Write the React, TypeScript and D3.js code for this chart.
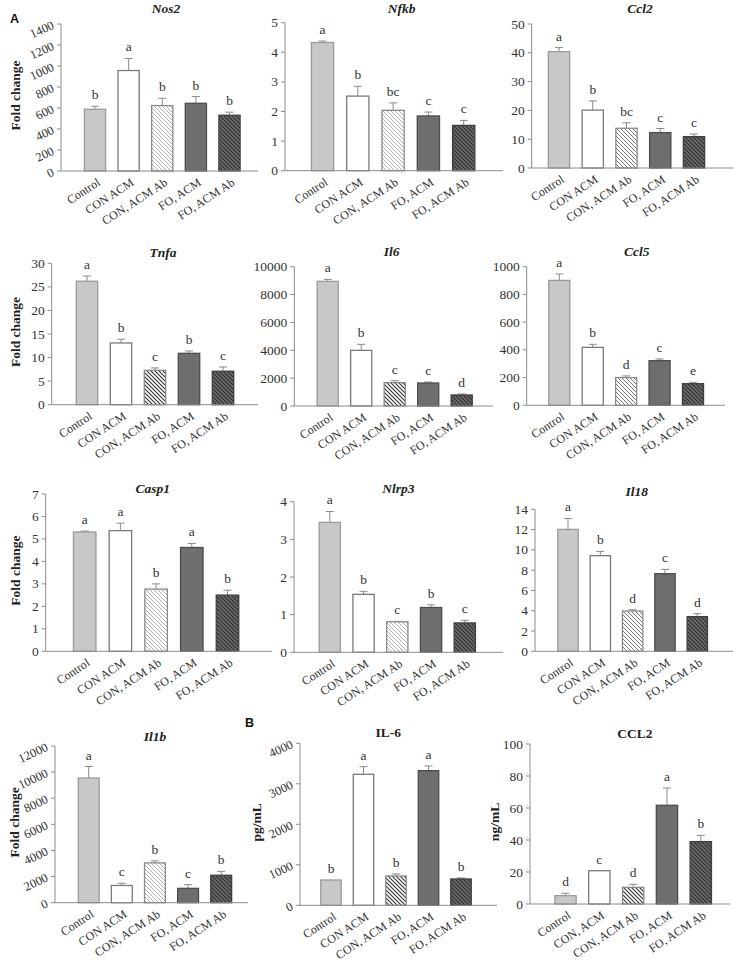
import React from "react";
import * as d3 from "d3";

// ---------- DATA ----------
const categories = ["Control", "CON ACM", "CON, ACM Ab", "FO, ACM", "FO, ACM Ab"];
const categoriesProtein = ["Control", "CON, ACM", "CON, ACM Ab", "FO, ACM", "FO, ACM Ab"];

const nos2Values = [588, 957, 623, 645, 531];
const nos2Errors = [29, 115, 70, 64, 29];
const nos2Letters = ["b", "a", "b", "b", "b"];
const nos2Ticks = [0, 200, 400, 600, 800, 1000, 1200, 1400];

const nfkbValues = [4.33, 2.52, 2.04, 1.85, 1.53];
const nfkbErrors = [0.05, 0.33, 0.25, 0.13, 0.17];
const nfkbLetters = ["a", "b", "bc", "c", "c"];
const nfkbTicks = [0, 1, 2, 3, 4, 5];

const ccl2Values = [40.4, 20.1, 13.8, 12.3, 10.9];
const ccl2Errors = [1.4, 3.2, 1.9, 1.4, 0.9];
const ccl2Letters = ["a", "b", "bc", "c", "c"];
const ccl2Ticks = [0, 10, 20, 30, 40, 50];

const tnfaValues = [26.2, 13.1, 7.3, 10.9, 7.1];
const tnfaErrors = [1.1, 0.8, 0.5, 0.5, 0.9];
const tnfaLetters = ["a", "b", "c", "b", "c"];
const tnfaTicks = [0, 5, 10, 15, 20, 25, 30];

const il6Values = [8947, 3995, 1675, 1650, 790];
const il6Errors = [143, 431, 143, 72, 71];
const il6Letters = ["a", "b", "c", "c", "d"];
const il6Ticks = [0, 2000, 4000, 6000, 8000, 10000];

const ccl5Values = [901, 418, 200, 322, 156];
const ccl5Errors = [46, 22, 12, 12, 10];
const ccl5Letters = ["a", "b", "d", "c", "e"];
const ccl5Ticks = [0, 200, 400, 600, 800, 1000];

const casp1Values = [5.31, 5.37, 2.77, 4.62, 2.5];
const casp1Errors = [0.04, 0.33, 0.23, 0.18, 0.22];
const casp1Letters = ["a", "a", "b", "a", "b"];
const casp1Ticks = [0, 1, 2, 3, 4, 5, 6, 7];

const nlrp3Values = [3.45, 1.54, 0.81, 1.19, 0.78];
const nlrp3Errors = [0.29, 0.08, 0.01, 0.07, 0.07];
const nlrp3Letters = ["a", "b", "c", "b", "c"];
const nlrp3Ticks = [0, 1, 2, 3, 4];

const il18Values = [12.02, 9.43, 3.97, 7.65, 3.42];
const il18Errors = [1.08, 0.42, 0.13, 0.43, 0.29];
const il18Letters = ["a", "b", "d", "c", "d"];
const il18Ticks = [0, 2, 4, 6, 8, 10, 12, 14];

const il1bValues = [9550, 1320, 3050, 1100, 2100];
const il1bErrors = [880, 170, 150, 280, 300];
const il1bLetters = ["a", "c", "b", "c", "b"];
const il1bTicks = [0, 2000, 4000, 6000, 8000, 10000, 12000];

const il6ProtValues = [625, 3235, 724, 3325, 650];
const il6ProtErrors = [0, 189, 50, 115, 25];
const il6ProtLetters = ["b", "a", "b", "a", "b"];
const il6ProtTicks = [0, 1000, 2000, 3000, 4000];

const ccl2ProtValues = [5.2, 20.8, 10.4, 61.7, 39.0];
const ccl2ProtErrors = [1.5, 0, 1.9, 10.8, 3.9];
const ccl2ProtLetters = ["d", "c", "d", "a", "b"];
const ccl2ProtTicks = [0, 20, 40, 60, 80, 100];

// ---------- PANELS ----------
type Layout = {
  x0: number; x1: number; yTop: number; y0: number; c0: number; c1: number;
  tx: number; ty: number; clipX: number; rot: boolean; hatch: string; ylx?: number;
};

const panels = [
  { title: "Nos2", italic: true, cats: categories, values: nos2Values, errors: nos2Errors, letters: nos2Letters, ticks: nos2Ticks, ylabel: "Fold change",
    L: { x0: 61, x1: 258, yTop: 24, y0: 171, c0: 95, c1: 229.5, tx: 166, ty: 13, clipX: 0, rot: true, hatch: "hL", ylx: 20 } },
  { title: "Nfkb", italic: true, cats: categories, values: nfkbValues, errors: nfkbErrors, letters: nfkbLetters, ticks: nfkbTicks, ylabel: "",
    L: { x0: 285, x1: 503, yTop: 22.7, y0: 170.7, c0: 322.5, c1: 463.7, tx: 401.7, ty: 13, clipX: 245, rot: false, hatch: "hL" } },
  { title: "Ccl2", italic: true, cats: categories, values: ccl2Values, errors: ccl2Errors, letters: ccl2Letters, ticks: ccl2Ticks, ylabel: "",
    L: { x0: 531.7, x1: 733, yTop: 24, y0: 168, c0: 559, c1: 694, tx: 640, ty: 13, clipX: 489, rot: false, hatch: "hM" } },
  { title: "Tnfa", italic: true, cats: categories, values: tnfaValues, errors: tnfaErrors, letters: tnfaLetters, ticks: tnfaTicks, ylabel: "Fold change",
    L: { x0: 51.7, x1: 258, yTop: 263.3, y0: 404.7, c0: 87, c1: 223, tx: 163, ty: 257, clipX: 0, rot: false, hatch: "hD", ylx: 20 } },
  { title: "Il6", italic: true, cats: categories, values: il6Values, errors: il6Errors, letters: il6Letters, ticks: il6Ticks, ylabel: "",
    L: { x0: 294.3, x1: 493, yTop: 266.7, y0: 406, c0: 327.7, c1: 461.7, tx: 391.7, ty: 256, clipX: 246, rot: false, hatch: "hD" } },
  { title: "Ccl5", italic: true, cats: categories, values: ccl5Values, errors: ccl5Errors, letters: ccl5Letters, ticks: ccl5Ticks, ylabel: "",
    L: { x0: 526.7, x1: 725, yTop: 266.7, y0: 405.3, c0: 559.3, c1: 693, tx: 636.7, ty: 256, clipX: 489, rot: false, hatch: "hM" } },
  { title: "Casp1", italic: true, cats: categories, values: casp1Values, errors: casp1Errors, letters: casp1Letters, ticks: casp1Ticks, ylabel: "Fold change",
    L: { x0: 45.7, x1: 272, yTop: 494, y0: 651.3, c0: 84.7, c1: 227.5, tx: 152.7, ty: 493, clipX: 0, rot: false, hatch: "hL", ylx: 20 } },
  { title: "Nlrp3", italic: true, cats: categories, values: nlrp3Values, errors: nlrp3Errors, letters: nlrp3Letters, ticks: nlrp3Ticks, ylabel: "",
    L: { x0: 294, x1: 503, yTop: 501.7, y0: 652.3, c0: 329.8, c1: 464.8, tx: 398.3, ty: 493, clipX: 245, rot: false, hatch: "hL" } },
  { title: "Il18", italic: true, cats: categories, values: il18Values, errors: il18Errors, letters: il18Letters, ticks: il18Ticks, ylabel: "",
    L: { x0: 535, x1: 733, yTop: 509.3, y0: 651.3, c0: 568, c1: 697.3, tx: 636.7, ty: 496, clipX: 489, rot: false, hatch: "hM" } },
  { title: "Il1b", italic: true, cats: categories, values: il1bValues, errors: il1bErrors, letters: il1bLetters, ticks: il1bTicks, ylabel: "Fold change",
    L: { x0: 55, x1: 248, yTop: 746, y0: 902.7, c0: 88.7, c1: 221.2, tx: 155, ty: 741, clipX: 0, rot: true, hatch: "hL", ylx: 19 } },
  { title: "IL-6", italic: false, cats: categories, values: il6ProtValues, errors: il6ProtErrors, letters: il6ProtLetters, ticks: il6ProtTicks, ylabel: "pg/mL",
    L: { x0: 300, x1: 497, yTop: 743.3, y0: 905.3, c0: 331, c1: 461, tx: 388.3, ty: 737, clipX: 245, rot: true, hatch: "hD", ylx: 261 } },
  { title: "CCL2", italic: false, cats: categoriesProtein, values: ccl2ProtValues, errors: ccl2ProtErrors, letters: ccl2ProtLetters, ticks: ccl2ProtTicks, ylabel: "ng/mL",
    L: { x0: 530, x1: 730, yTop: 744, y0: 904, c0: 565.5, c1: 700.8, tx: 635, ty: 738, clipX: 489, rot: false, hatch: "hD", ylx: 499 } },
];

const SERIF = "Liberation Serif, Times New Roman, Times, serif";
const SANS = "Liberation Sans, Arial, sans-serif";
const TXT = "#333";
const AXIS = "#8c8c8c";

function barStyle(i: number, hatch: string) {
  switch (i) {
    case 0: return { fill: "#c8c8c8", stroke: "#9a9a9a" };
    case 1: return { fill: "#ffffff", stroke: "#7a7a7a" };
    case 2: return { fill: `url(#${hatch})`, stroke: "#8a8a8a" };
    case 3: return { fill: "#6e6e6e", stroke: "#4d4d4d" };
    default: return { fill: "url(#hFO)", stroke: "#3f3f3f" };
  }
}

function Panel({ p, idx }: { p: any; idx: number }) {
  const L: Layout = p.L;
  const max = p.ticks[p.ticks.length - 1];
  const y = d3.scaleLinear().domain([0, max]).range([L.y0, L.yTop]);
  const x = d3.scalePoint<string>().domain(p.cats).range([L.c0, L.c1]);
  const step = (L.c1 - L.c0) / (p.cats.length - 1);
  const bw = step * 0.63;
  const tickFmt = d3.format("d");
  return (
    <g clipPath={`url(#clip${idx})`}>
      <clipPath id={`clip${idx}`}>
        <rect x={L.clipX} y={0} width={738 - L.clipX} height={962} />
      </clipPath>
      {/* title */}
      <text x={L.tx} y={L.ty} textAnchor="middle" fontFamily={SERIF} fontSize={13.5} fontWeight="bold"
        fontStyle={p.italic ? "italic" : "normal"} fill="#222">{p.title}</text>
      {/* y label */}
      {p.ylabel && (
        <text transform={`translate(${L.ylx},${(L.y0 + L.yTop) / 2 - 2}) rotate(-90)`} textAnchor="middle"
          fontFamily={SERIF} fontSize={13.5} fontWeight="bold" fill="#222">{p.ylabel}</text>
      )}
      {/* y axis */}
      <line x1={L.x0} x2={L.x0} y1={L.yTop} y2={L.y0} stroke={AXIS} strokeWidth={1} />
      {p.ticks.map((t: number) => (
        <g key={t}>
          <line x1={L.x0 - 4} x2={L.x0} y1={y(t)} y2={y(t)} stroke={AXIS} strokeWidth={1} />
          {L.rot ? (
            <text transform={`translate(${L.x0 - 6},${y(t) + 4}) rotate(-25)`} textAnchor="end"
              fontFamily={SERIF} fontSize={12.5} fill={TXT}>{tickFmt(t)}</text>
          ) : (
            <text x={L.x0 - 7} y={y(t) + 4.5} textAnchor="end" fontFamily={SERIF} fontSize={13.5} fill={TXT}>{tickFmt(t)}</text>
          )}
        </g>
      ))}
      {/* bars */}
      {p.cats.map((c: string, i: number) => {
        const cx = x(c) as number;
        const v = p.values[i];
        const e = p.errors[i];
        const st = barStyle(i, L.hatch);
        const top = y(v + e);
        return (
          <g key={c}>
            {e > 0 && (
              <g stroke="#8a8a8a" strokeWidth={1}>
                <line x1={cx} x2={cx} y1={y(v)} y2={top} />
                <line x1={cx - 4} x2={cx + 4} y1={top} y2={top} />
              </g>
            )}
            <rect x={cx - bw / 2} y={y(v)} width={bw} height={L.y0 - y(v)} fill={st.fill} stroke={st.stroke} strokeWidth={1.3} />
            <text x={cx} y={top - 7} textAnchor="middle" fontFamily={SERIF} fontSize={13.5} fill={TXT}>{p.letters[i]}</text>
            <text transform={`translate(${cx + 6},${L.y0 + 13.5}) rotate(-33)`} textAnchor="end"
              fontFamily={SERIF} fontSize={12} fill={TXT}>{c}</text>
          </g>
        );
      })}
      {/* x axis */}
      <line x1={L.x0} x2={L.x1} y1={L.y0} y2={L.y0} stroke={AXIS} strokeWidth={1} />
    </g>
  );
}

function Hatch({ id, bg, line, w }: { id: string; bg: string; line: string; w: number }) {
  return (
    <pattern id={id} patternUnits="userSpaceOnUse" width={4} height={4}>
      <rect width={4} height={4} fill={bg} />
      <path d="M-1,-1 L5,5 M3,-1 L5,1 M-1,3 L1,5" stroke={line} strokeWidth={w} />
    </pattern>
  );
}

export default function App() {
  return (
    <svg width={738} height={962} style={{ position: "absolute", left: 0, top: 0, display: "block", background: "#fff" }}>
      <defs>
        <Hatch id="hL" bg="#ffffff" line="#a8a8a8" w={0.9} />
        <Hatch id="hM" bg="#ffffff" line="#777777" w={1} />
        <Hatch id="hD" bg="#ffffff" line="#333333" w={1.1} />
        <Hatch id="hFO" bg="#6a6a6a" line="#2e2e2e" w={1.1} />
      </defs>
      <rect width={738} height={962} fill="#fff" />
      {panels.map((p, i) => <Panel key={p.title + i} p={p} idx={i} />)}
      <text x={10} y={23} fontFamily={SANS} fontSize={12.5} fontWeight="bold" fill="#111">A</text>
      <text x={245} y={727} fontFamily={SANS} fontSize={12.5} fontWeight="bold" fill="#111">B</text>
    </svg>
  );
}
